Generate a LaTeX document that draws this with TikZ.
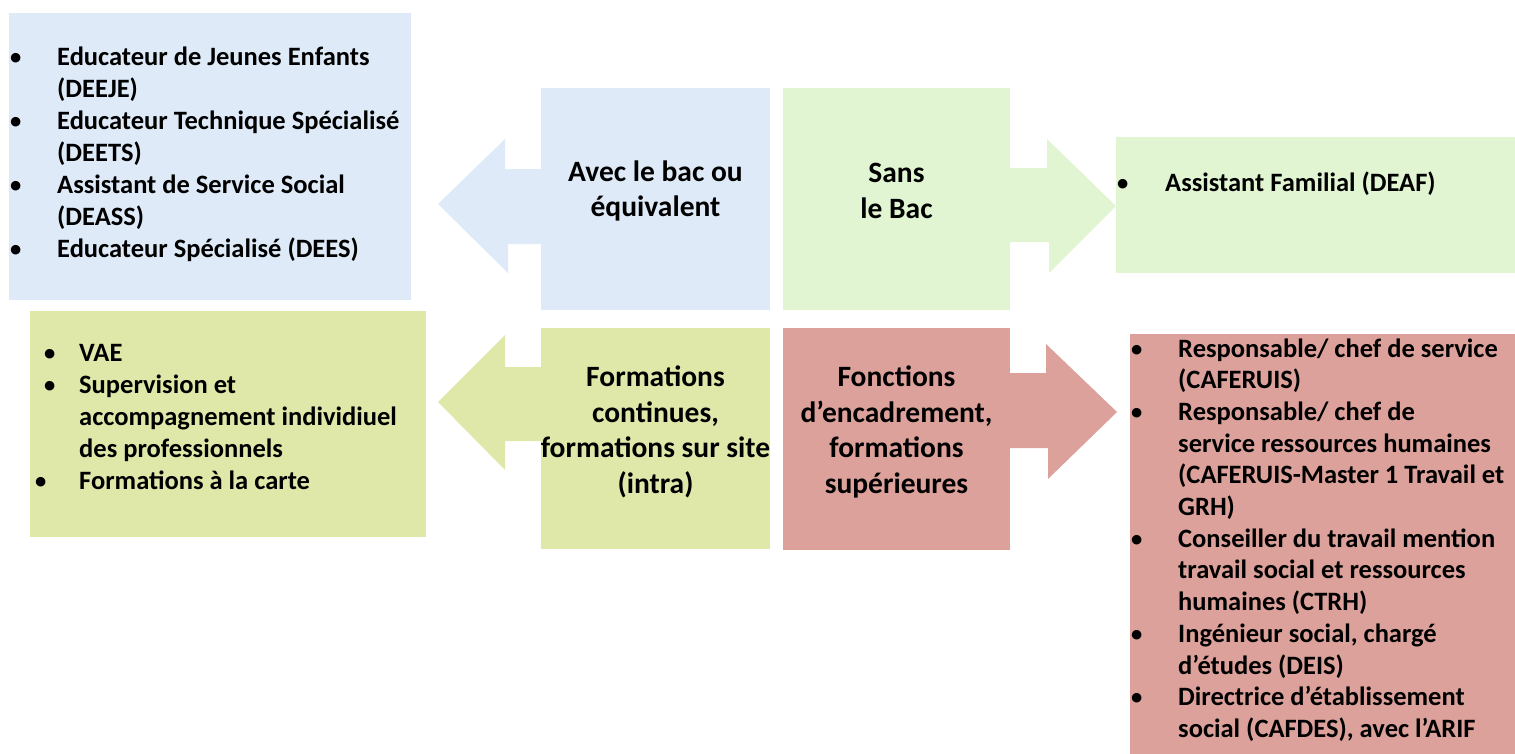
\documentclass[tikz,border=0pt]{standalone}
\usepackage{fontspec}
\setmainfont{Carlito}
\usetikzlibrary{positioning,calc}

\definecolor{bacblue}{HTML}{DEEAF8}
\definecolor{sansgreen}{HTML}{E1F5D2}
\definecolor{formolive}{HTML}{DFE8A8}
\definecolor{encpink}{HTML}{DCA19A}

\tikzset{
  box/.style={rectangle, inner sep=0pt, anchor=north west},
  listtext/.style={inner sep=0pt, anchor=base west, align=left,
    font=\fontsize{26.5}{32}\selectfont\bfseries},
  midtext/.style={inner sep=0pt, align=center,
    font=\fontsize{29.5}{35.5}\selectfont\bfseries}
}

\newcommand{\bul}{\raisebox{1pt}{\scalebox{0.85}{\textbullet}}}

\begin{document}
\begin{tikzpicture}[x=1pt,y=-1pt]
\useasboundingbox (0,0) rectangle (1515,753);

% top row
\node (baclist) [box, fill=bacblue, minimum width=402pt, minimum height=287pt] at (9,13) {};
\node (avec) [box, fill=bacblue, minimum width=229pt, minimum height=222pt] at (541,88) {};
\node (sans) [box, fill=sansgreen, minimum width=227pt, minimum height=222pt] at (783,88) {};
\node (deaf) [box, fill=sansgreen, minimum width=399pt, minimum height=136pt] at (1116,137) {};

\fill[bacblue] ([xshift=1pt]avec.west |- 0,169) -- (505,169) -- (505,139) -- (438,204)
  -- (508,273) -- (508,244) -- ([xshift=1pt]avec.west |- 0,244) -- cycle;
\fill[sansgreen] ([xshift=-1pt]sans.east |- 0,168) -- (1047,168) -- (1047,139) -- (1116,206)
  -- (1049,273) -- (1049,242) -- ([xshift=-1pt]sans.east |- 0,242) -- cycle;

% bottom row
\node (formlist) [box, fill=formolive, minimum width=396pt, minimum height=226pt] at (30,311) {};
\node (form) [box, fill=formolive, minimum width=229pt, minimum height=221pt] at (541,328) {};
\node (enc) [box, fill=encpink, minimum width=227pt, minimum height=222pt] at (783,328) {};
\node (enclist) [box, fill=encpink, minimum width=385pt, minimum height=420pt] at (1130,334) {};

\fill[formolive] ([xshift=1pt]form.west |- 0,367) -- (505,367) -- (505,335) -- (438,402)
  -- (505,470) -- (505,441) -- ([xshift=1pt]form.west |- 0,441) -- cycle;
\fill[encpink] ([xshift=-1pt]enc.east |- 0,373) -- (1046,373) -- (1046,344) -- (1117,412)
  -- (1048,479) -- (1048,448) -- ([xshift=-1pt]enc.east |- 0,448) -- cycle;

% texts
\node (baclisttxt) [listtext] at (10,65) {\begin{tabular}[t]{@{}p{47pt}@{}l@{}}
\bul & Educateur de Jeunes Enfants\\
 & (DEEJE)\\
\bul & Educateur Technique Spécialisé\\
 & (DEETS)\\
\bul & Assistant de Service Social\\
 & (DEASS)\\
\bul & Educateur Spécialisé (DEES)
\end{tabular}};

\node (avectxt) [midtext] at (655.5,191) {Avec le bac ou\\équivalent};
\node (sanstxt) [midtext] at (896.5,191) {Sans\\le Bac};

\node (deaftxt) [listtext] at (1117,191) {\begin{tabular}[t]{@{}p{48pt}@{}l@{}}
\bul & Assistant Familial (DEAF)
\end{tabular}};

\node (formlisttxt) [listtext] at (44,361) {\begin{tabular}[t]{@{}p{35pt}@{}l@{}}
\bul & VAE\\
\bul & Supervision et\\
 & accompagnement individiuel\\
 & des professionnels\\
\multicolumn{2}{@{}l@{}}{\hspace{-9pt}\makebox[44pt][l]{\bul}Formations à la carte}
\end{tabular}};

\node (formtxt) [midtext] at (655.5,432) {Formations\\continues,\\formations sur site\\(intra)};
\node (enctxt) [midtext] at (896.5,432) {Fonctions\\d’encadrement,\\formations\\supérieures};

\node (enclisttxt) [listtext, font=\fontsize{26.5}{31.7}\selectfont\bfseries] at (1131,357) {\begin{tabular}[t]{@{}p{47pt}@{}l@{}}
\bul & Responsable/ chef de service\\
 & (CAFERUIS)\\
\bul & Responsable/ chef de\\
 & service ressources humaines\\
 & (CAFERUIS-Master 1 Travail et\\
 & GRH)\\
\bul & Conseiller du travail mention\\
 & travail social et ressources\\
 & humaines (CTRH)\\
\bul & Ingénieur social, chargé\\
 & d’études (DEIS)\\
\bul & Directrice d’établissement\\
 & social (CAFDES), avec l’ARIF
\end{tabular}};
\end{tikzpicture}
\end{document}
